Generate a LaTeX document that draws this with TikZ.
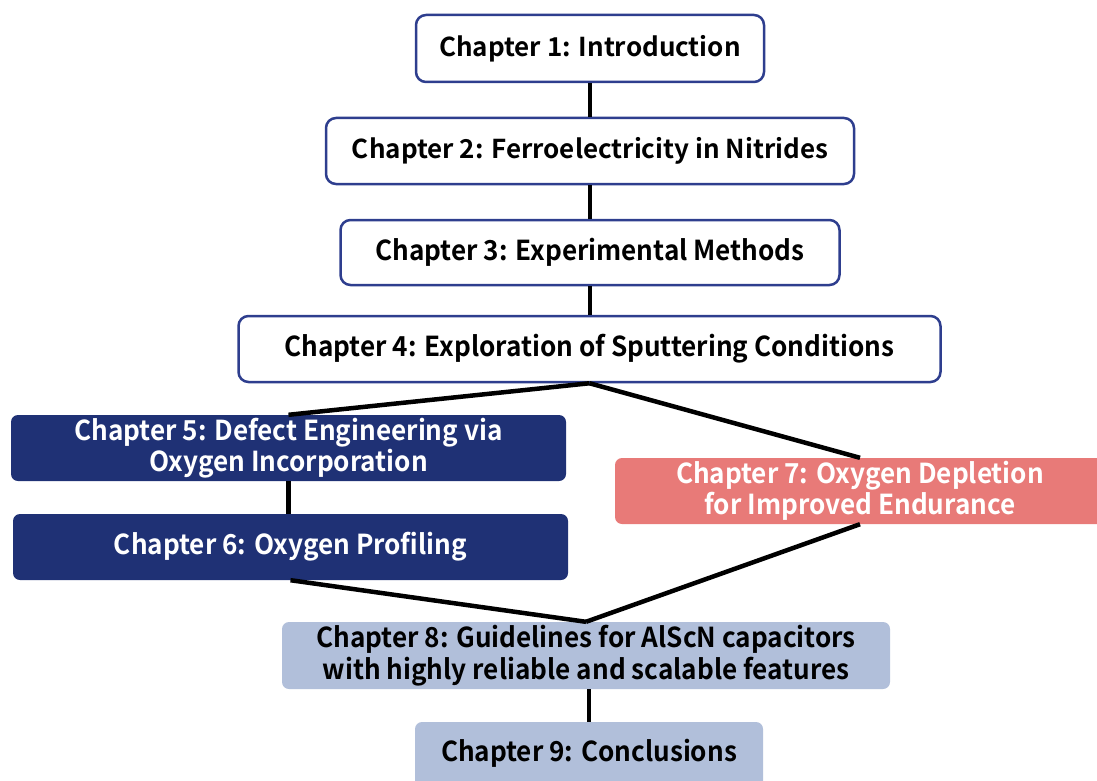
\documentclass[tikz,border=0pt]{standalone}
\usepackage{fontspec}
\newfontfamily\widefont{Noto Sans CJK JP}[BoldFont={* Bold}]
\newfontfamily\condfont{Noto Sans CJK JP}[BoldFont={* Bold},FakeStretch=0.95]
\definecolor{navyline}{HTML}{2E3E8E}
\definecolor{navyfill}{HTML}{1F3175}
\definecolor{salmon}{HTML}{E87A78}
\definecolor{paleblue}{HTML}{B1BFDA}
\begin{document}
\begin{tikzpicture}[x=1pt,y=-1pt,
  outbox/.style={draw=navyline,line width=2.5pt,fill=white,rounded corners=10pt,inner sep=0pt,align=center},
  navybox/.style={fill=navyfill,text=white,rounded corners=7pt,inner sep=0pt,align=center},
  palebox/.style={fill=paleblue,text=black,rounded corners=7pt,inner sep=0pt,align=center},
  wtext/.style={font=\widefont\bfseries\fontsize{26}{31}\selectfont},
  ctext/.style={font=\condfont\bfseries\fontsize{27.5}{31.5}\selectfont},
  conn/.style={line width=4.5pt,black}]
\useasboundingbox (0,0) rectangle (1097,781);
% boxes
\node[outbox,wtext,minimum width=348pt,minimum height=67pt] (c1) at (590,48.5) {Chapter 1: Introduction};
\node[outbox,wtext,minimum width=528pt,minimum height=66pt] (c2) at (590,151) {Chapter 2: Ferroelectricity in Nitrides};
\node[outbox,ctext,minimum width=499pt,minimum height=65pt] (c3) at (590,252.5) {Chapter 3: Experimental Methods};
\node[outbox,ctext,minimum width=702pt,minimum height=66pt] (c4) at (589.5,349) {Chapter 4: Exploration of Sputtering Conditions};
\node[navybox,ctext,minimum width=555pt,minimum height=66pt] (c5) at (288.5,448) {Chapter 5: Defect Engineering via\\Oxygen Incorporation};
\node[navybox,ctext,minimum width=555pt,minimum height=66pt] (c6) at (290.5,547) {Chapter 6: Oxygen Profiling};
\fill[salmon,rounded corners=7pt] (615,458) rectangle (1120,524);
\node[ctext,text=white,align=center,minimum height=66pt,inner sep=0pt] (c7) at (860,491) {Chapter 7: Oxygen Depletion\\for Improved Endurance};
\node[palebox,ctext,minimum width=608pt,minimum height=67pt] (c8) at (586,655.5) {Chapter 8: Guidelines for AlScN capacitors\\with highly reliable and scalable features};
\fill[paleblue,rounded corners=7pt] (415,722) rectangle (763,800);
\node[ctext,minimum height=62pt,inner sep=0pt] (c9) at (589,753) {Chapter 9: Conclusions};
% connectors
\draw[conn] (c1.south) -- (c2.north);
\draw[conn] (c2.south) -- (c3.north);
\draw[conn] (c3.south) -- (c3.south |- c4.north);
\draw[conn] (c4.south) -- (c5.north);
\draw[conn] (c4.south) -- (c7.north);
\draw[conn] (c5.north |- c5.south) -- (c5.north |- c6.north);
\draw[conn] (c6.south) -- (c8.north);
\draw[conn] (c7.south) -- (c8.north);
\draw[conn] (c9.north |- c8.south) -- (c9.north);
\end{tikzpicture}
\end{document}
